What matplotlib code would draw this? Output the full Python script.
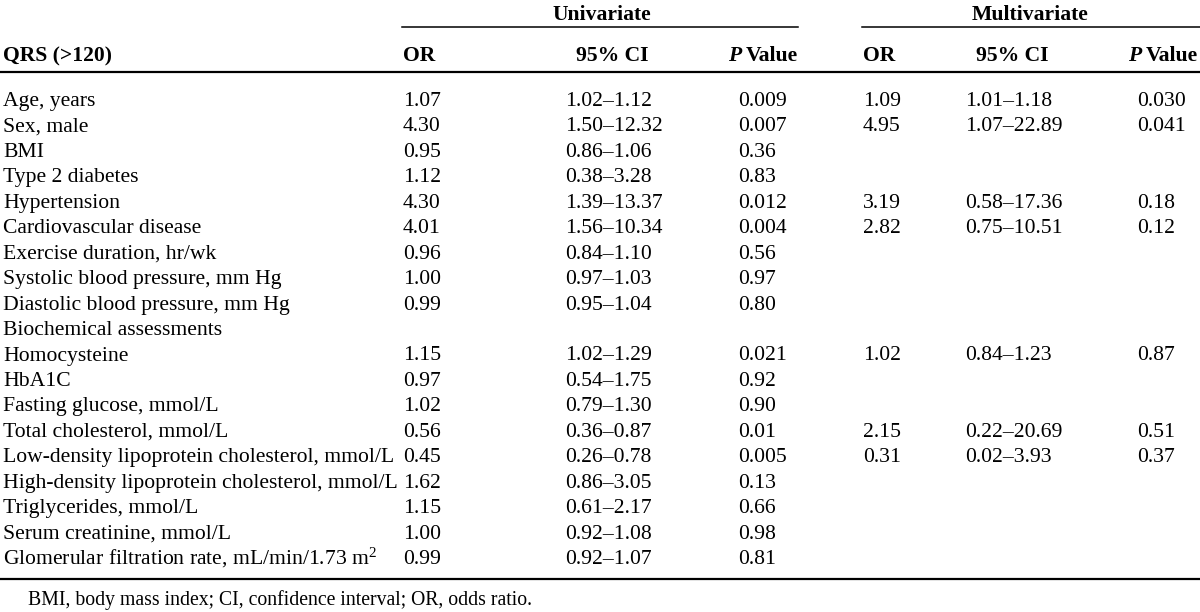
"""Logistic regression table for QRS (>120), drawn as a matplotlib figure."""

import matplotlib
matplotlib.use('Agg')
import matplotlib.pyplot as plt

# table data
variables = [
    'Age, years', 'Sex, male', 'BMI', 'Type 2 diabetes', 'Hypertension',
    'Cardiovascular disease', 'Exercise duration, hr/wk',
    'Systolic blood pressure, mm Hg', 'Diastolic blood pressure, mm Hg',
    'Biochemical assessments', 'Homocysteine', 'HbA1C',
    'Fasting glucose, mmol/L', 'Total cholesterol, mmol/L',
    'Low-density lipoprotein cholesterol, mmol/L',
    'High-density lipoprotein cholesterol, mmol/L',
    'Triglycerides, mmol/L', 'Serum creatinine, mmol/L',
    'Glomerular filtration rate, mL/min/1.73 m$^{2}$',
]

or_uni = ['1.07', '4.30', '0.95', '1.12', '4.30', '4.01', '0.96', '1.00', '0.99', '',
          '1.15', '0.97', '1.02', '0.56', '0.45', '1.62', '1.15', '1.00', '0.99']
ci_uni = ['1.02\u20131.12', '1.50\u201312.32', '0.86\u20131.06', '0.38\u20133.28',
          '1.39\u201313.37', '1.56\u201310.34', '0.84\u20131.10', '0.97\u20131.03',
          '0.95\u20131.04', '', '1.02\u20131.29', '0.54\u20131.75', '0.79\u20131.30',
          '0.36\u20130.87', '0.26\u20130.78', '0.86\u20133.05', '0.61\u20132.17',
          '0.92\u20131.08', '0.92\u20131.07']
p_uni = ['0.009', '0.007', '0.36', '0.83', '0.012', '0.004', '0.56', '0.97', '0.80', '',
         '0.021', '0.92', '0.90', '0.01', '0.005', '0.13', '0.66', '0.98', '0.81']

or_multi = ['1.09', '4.95', '', '', '3.19', '2.82', '', '', '', '',
            '1.02', '', '', '2.15', '0.31', '', '', '', '']
ci_multi = ['1.01\u20131.18', '1.07\u201322.89', '', '', '0.58\u201317.36',
            '0.75\u201310.51', '', '', '', '', '0.84\u20131.23', '', '',
            '0.22\u201320.69', '0.02\u20133.93', '', '', '', '']
p_multi = ['0.030', '0.041', '', '', '0.18', '0.12', '', '', '', '',
           '0.87', '', '', '0.51', '0.37', '', '', '', '']

footnote = 'BMI, body mass index; CI, confidence interval; OR, odds ratio.'

plt.rcParams['font.family'] = ['Liberation Serif', 'DejaVu Serif']
# math text (the m^2 superscript) in the same serif face
plt.rcParams['mathtext.fontset'] = 'custom'
plt.rcParams['mathtext.rm'] = 'Liberation Serif'
plt.rcParams['mathtext.it'] = 'Liberation Serif:italic'
plt.rcParams['mathtext.bf'] = 'Liberation Serif:bold'
FS = 15.6

fig = plt.figure(figsize=(12, 6.12), dpi=100)
ax = fig.add_axes([0, 0, 1, 1])
# pixel-like coordinates, origin at top left
ax.set_xlim(0, 1200)
ax.set_ylim(612, 0)
ax.axis('off')

renderer = fig.canvas.get_renderer()


def p_value_header(x_right, y):
    """Bold 'Value' right aligned with an italic bold 'P' in front of it."""
    t = ax.text(x_right, y, 'Value', ha='right', va='baseline',
                fontsize=FS, fontweight='bold')
    w = t.get_window_extent(renderer).width
    ax.text(x_right - w - 5, y, 'P', ha='right', va='baseline',
            fontsize=FS, fontweight='bold', fontstyle='italic')


# group headers with their rules
ax.text(602, 20, 'Univariate', ha='center', va='baseline', fontsize=FS, fontweight='bold')
ax.text(1030, 20, 'Multivariate', ha='center', va='baseline', fontsize=FS, fontweight='bold')
ax.plot([402, 798], [26.5, 26.5], color='black', lw=1.1)
ax.plot([862, 1200], [26.5, 26.5], color='black', lw=1.1)

# column headers
y_head = 61
ax.text(3, y_head, 'QRS (>120)', ha='left', va='baseline', fontsize=FS, fontweight='bold')
ax.text(403, y_head, 'OR', ha='left', va='baseline', fontsize=FS, fontweight='bold')
ax.text(612, y_head, '95% CI', ha='center', va='baseline', fontsize=FS, fontweight='bold')
p_value_header(798, y_head)
ax.text(863, y_head, 'OR', ha='left', va='baseline', fontsize=FS, fontweight='bold')
ax.text(1012, y_head, '95% CI', ha='center', va='baseline', fontsize=FS, fontweight='bold')
p_value_header(1198, y_head)

ax.plot([0, 1200], [71.5, 71.5], color='black', lw=1.6)

# body rows (y is the text baseline)
y0, dy = 106, 25.45
columns = [(or_uni, 403), (ci_uni, 565), (p_uni, 738),
           (or_multi, 863), (ci_multi, 965), (p_multi, 1137)]
for i, name in enumerate(variables):
    y = y0 + i * dy
    ax.text(3, y, name, ha='left', va='baseline', fontsize=FS)
    for values, x in columns:
        if values[i]:
            ax.text(x, y, values[i], ha='left', va='baseline', fontsize=FS)

ax.plot([0, 1200], [579, 579], color='black', lw=1.6)

ax.text(28, 605, footnote, ha='left', va='baseline', fontsize=14.2)

fig.savefig('out.png', dpi=100)
